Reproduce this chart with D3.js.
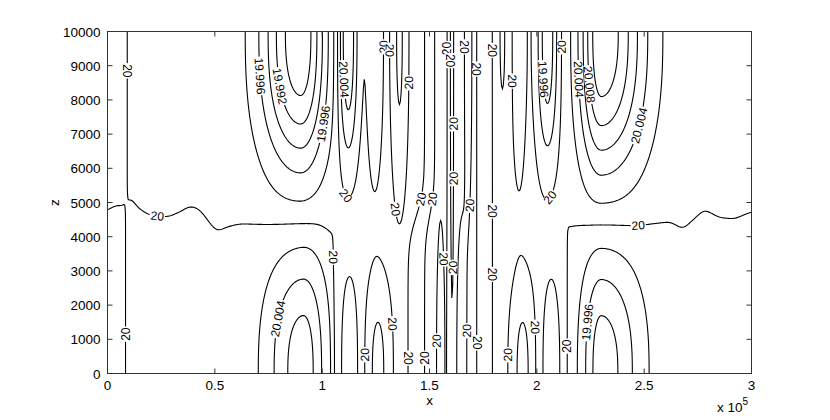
<!DOCTYPE html>
<html lang="en">
<head>
<meta charset="utf-8">
<title>Contour z over x</title>
<style>
  body { margin: 0; background: #fff; }
  svg text { font-family: "Liberation Sans", Arial, Helvetica, sans-serif; fill: #000; }
</style>
</head>
<body>
<div id="chart"></div>
<script src="https://cdn.jsdelivr.net/npm/d3@7"></script>
<script>
// x in units of 1e5, z in metres, anomalies in units of 0.001 around 20
const xTicks = [0, 0.5, 1, 1.5, 2, 2.5, 3];
const zTicks = [0, 1000, 2000, 3000, 4000, 5000, 6000, 7000, 8000, 9000, 10000];
const levelSteps = [-6, -5, -4, -3, -2, -1, 0, 1, 2, 3, 4, 5, 6];

// lobes hanging from the top ("t") or rising from the bottom ("b")
const lobeX    = [0.90, 0.913, 1.12, 1.126, 1.245, 1.36, 1.26, 1.552, 1.605, 1.65, 1.68, 1.84, 1.917, 2.05, 1.934, 2.067, 2.30, 2.30];
const lobeWL   = [0.18, 0.17, 0.044, 0.049, 0.037, 0.035, 0.055, 0.02, 0.007, 0.024, 0.018, 0.026, 0.036, 0.048, 0.053, 0.047, 0.10, 0.09];
const lobeWR   = [0.12, 0.105, 0.044, 0.049, 0.037, 0.035, 0.055, 0.02, 0.007, 0.024, 0.018, 0.026, 0.036, 0.048, 0.053, 0.047, 0.20, 0.18];
const lobeA    = [-11, 6.5, 6.8, -3, 1.9, 3.0, 3.3, 1.5, -1.8, -1.5, -1.5, 1.7, -1.5, -6, -3.3, 3, 11, -6.5];
const lobeSide = ["t", "b", "t", "b", "t", "t", "b", "b", "t", "b", "t", "t", "t", "t", "b", "b", "t", "b"];
const lobeD    = [3920, 3348, 3566, 3250, 4400, 4640, 2645, 4630, 7410, 4630, 5600, 3300, 4800, 3600, 2620, 3100, 3990, 3348];

// background sign pattern: flips near the top / bottom and tilted column boundaries
const topFlips = [0.092];
const botFlips = [0.084, 1.05, 2.142];
const colTop = [1.477, 1.524, 1.582, 1.72, 1.793];
const colBot = [1.40, 1.477, 1.582, 1.72, 1.793];
// height of the horizontal "20" line
const zmX = [-0.1, 0, 0.03, 0.06, 0.085, 0.1, 0.113, 0.15, 0.2, 0.28, 0.33, 0.385, 0.43, 0.47, 0.51, 0.56, 0.62, 0.75, 0.9, 0.98, 1.02, 1.05, 2.142, 2.2, 2.3, 2.45, 2.54, 2.62, 2.68, 2.72, 2.78, 2.85, 2.92, 3.0, 3.1];
const zmZ = [4766, 4766, 4900, 4930, 4850, 5300, 5058, 4800, 4620, 4580, 4700, 4900, 4800, 4450, 4150, 4300, 4395, 4400, 4400, 4350, 4200, 4000, 4300, 4376, 4370, 4357, 4425, 4460, 4230, 4450, 4800, 4560, 4520, 4730, 4730];

// inline contour labels
const labelX = [0.083, 0.718, 0.819, 1.106, 1.005, 1.098, 1.222, 1.311, 1.40, 1.338, 1.478, 1.524, 0.23, 1.579, 1.602, 1.664, 1.718, 1.788, 1.609, 1.609, 1.679, 1.795, 1.571, 1.609, 1.78, 1.307, 1.191, 1.40, 1.48, 1.532, 1.664, 1.718, 1.036, 0.819, 0.083, 1.884, 2.004, 2.144, 2.214, 2.47, 1.885, 2.028, 2.129, 2.167, 2.214, 2.447, 2.055];
const labelZ = [8869, 8713, 8421, 8616, 7301, 5155, 9575, 9450, 8518, 4790, 5068, 5068, 4571, 9503, 9161, 9561, 8918, 9453, 7310, 5702, 4922, 4775, 3363, 3120, 2920, 1460, 530, 450, 450, 974, 1266, 877, 3420, 1550, 1160, 530, 1354, 800, 1500, 4357, 8530, 8616, 9541, 8616, 8421, 7301, 5190];
const labelText = ["20", "19.996", "19.992", "20.004", "19.996",
  "20", "20", "20", "20", "20", "20", "20", "20", "20", "20", "20", "20", "20", "20",
  "20", "20", "20", "20", "20", "20", "20", "20", "20", "20", "20", "20", "20", "20",
  "20.004", "20", "20", "20", "20", "19.996", "20", "20", "19.996", "20", "20.004", "20.008", "20.004", "20"];

const chartWidth = 830, chartHeight = 420;
const plotLeft = 107.5, plotRight = 751.5, plotTop = 31.5, plotBottom = 373.5;

const x = d3.scaleLinear().domain([0, 3]).range([plotLeft, plotRight]);
const z = d3.scaleLinear().domain([0, 10000]).range([plotBottom, plotTop]);
const zmLinear = d3.scaleLinear().domain(zmX).range(zmZ).clamp(true);

// sample grid a little wider than the axes so border rings fall outside the clip
const nx = 771, nz = 211, gx0 = -0.04, gdx = 0.004, gz0 = -250, gdz = 50;

// soften the corners of the read-off line with a small triangular window
const zmGrid = d3.range(nx).map(i => {
  const xv = gx0 + i * gdx;
  let s = 0, ws = 0;
  for (let k = -8; k <= 8; k++) {
    const w = 9 - Math.abs(k);
    s += w * zmLinear(xv + k * gdx);
    ws += w;
  }
  return s / ws;
});

function flip(xv, flips, s0, d) {
  let s = s0;
  for (const b of flips) s *= Math.tanh((xv - b) / d);
  return s;
}

function field(i, zv) {
  const xv = gx0 + i * gdx;
  const h = 0.5 * (1 + Math.tanh((zv - zmGrid[i]) / 300));
  const v = flip(xv, topFlips, 1, 0.004) * h + flip(xv, botFlips, -1, 0.004) * (1 - h);
  const hh = 0.5 * (1 + Math.tanh((zv - 4600) / 800));
  let c = 1;
  for (let k = 0; k < colTop.length; k++) {
    const b = colBot[k] + (colTop[k] - colBot[k]) * hh;
    c *= Math.tanh((xv - b) / 0.006);
  }
  let f = 0.6 * c * v;
  for (let k = 0; k < lobeX.length; k++) {
    const dx = xv - lobeX[k];
    const w = dx < 0 ? lobeWL[k] : lobeWR[k];
    const dz = Math.max(0, lobeSide[k] === "t" ? 10000 - zv : zv);
    f += lobeA[k] * Math.exp(-(dx / w) * (dx / w)) * Math.exp(-Math.pow(dz / lobeD[k], 2.5));
  }
  return f;
}

const values = new Float64Array(nx * nz);
for (let j = 0; j < nz; j++) {
  for (let i = 0; i < nx; i++) {
    values[j * nx + i] = field(i, gz0 + j * gdz);
  }
}

const thresholds = levelSteps.map(k => 2 * k);
const contours = d3.contours().size([nx, nz]).thresholds(thresholds)(values);

const toPx = (a, b) => [x(gx0 + (a - 0.5) * gdx), z(gz0 + (b - 0.5) * gdz)];
const path = d3.geoPath(d3.geoTransform({
  point: function (a, b) { const p = toPx(a, b); this.stream.point(p[0], p[1]); }
}));

const svg = d3.select("#chart").append("svg")
  .attr("width", chartWidth)
  .attr("height", chartHeight);

svg.append("defs").append("clipPath").attr("id", "plot")
  .append("rect")
  .attr("x", plotLeft).attr("y", plotTop)
  .attr("width", plotRight - plotLeft).attr("height", plotBottom - plotTop);

const plot = svg.append("g").attr("clip-path", "url(#plot)");

plot.selectAll("path")
  .data(contours)
  .join("path")
  .attr("d", path)
  .attr("fill", "none")
  .attr("stroke", "#000")
  .attr("stroke-width", 1.1);

// rings in pixel space, per level, for label snapping
const rings = contours.map(c => {
  const list = [];
  c.coordinates.forEach(poly => poly.forEach(ring => list.push(ring.map(p => toPx(p[0], p[1])))));
  return { value: c.value, list };
});

function nearest(px, py, pool) {
  let best = null;
  pool.forEach(r => r.list.forEach(ring => {
    for (let i = 0; i < ring.length; i++) {
      const p = ring[i];
      if (p[0] < plotLeft + 2 || p[0] > plotRight - 2 || p[1] < plotTop + 2 || p[1] > plotBottom - 2) continue;
      const d = Math.hypot(p[0] - px, p[1] - py);
      if (!best || d < best.d) best = { d, ring, i };
    }
  }));
  return best;
}

const labels = plot.append("g");
labelText.forEach((t, k) => {
  const lvl = Math.round((+t - 20) * 1000);
  const px = x(labelX[k]), py = z(labelZ[k]);
  let hit = nearest(px, py, rings.filter(r => Math.abs(r.value - lvl) < 1e-6));
  if (!hit || hit.d > 14) hit = nearest(px, py, rings);
  if (!hit || hit.d > 20) return;
  const ring = hit.ring, n = ring.length;
  const a = ring[(hit.i - 3 + n) % n], b = ring[(hit.i + 3) % n];
  let ang = Math.atan2(b[1] - a[1], b[0] - a[0]) * 180 / Math.PI;
  if (ang > 90) ang -= 180;
  if (ang <= -90) ang += 180;
  const p = ring[hit.i];
  const g = labels.append("g").attr("transform", `translate(${p[0]},${p[1]}) rotate(${ang})`);
  const txt = g.append("text")
    .attr("text-anchor", "middle")
    .attr("dy", "0.35em")
    .style("font-size", "12px")
    .text(t);
  const len = txt.node().getComputedTextLength();
  g.insert("rect", "text")
    .attr("x", -len / 2 - 1).attr("y", -4.5)
    .attr("width", len + 2).attr("height", 9)
    .attr("fill", "#fff");
});

// axes box and inward ticks on all four sides
const axisColor = "#333";
svg.append("rect")
  .attr("x", plotLeft).attr("y", plotTop)
  .attr("width", plotRight - plotLeft).attr("height", plotBottom - plotTop)
  .attr("fill", "none").attr("stroke", axisColor).attr("stroke-width", 1);

const tickLen = 5;
xTicks.slice(1, -1).forEach(t => {
  svg.append("line").attr("x1", x(t)).attr("x2", x(t)).attr("y1", plotBottom).attr("y2", plotBottom - tickLen).attr("stroke", axisColor);
  svg.append("line").attr("x1", x(t)).attr("x2", x(t)).attr("y1", plotTop).attr("y2", plotTop + tickLen).attr("stroke", axisColor);
});
zTicks.slice(1, -1).forEach(t => {
  svg.append("line").attr("x1", plotLeft).attr("x2", plotLeft + tickLen).attr("y1", z(t)).attr("y2", z(t)).attr("stroke", axisColor);
  svg.append("line").attr("x1", plotRight).attr("x2", plotRight - tickLen).attr("y1", z(t)).attr("y2", z(t)).attr("stroke", axisColor);
});

svg.selectAll(".xt").data(xTicks).join("text")
  .attr("class", "xt")
  .attr("x", d => x(d)).attr("y", plotBottom + 16)
  .attr("text-anchor", "middle")
  .style("font-size", "13.5px")
  .text(d => d);

svg.selectAll(".zt").data(zTicks).join("text")
  .attr("class", "zt")
  .attr("x", plotLeft - 7).attr("y", d => z(d) + 5)
  .attr("text-anchor", "end")
  .style("font-size", "13.5px")
  .text(d => d);

svg.append("text")
  .attr("transform", `translate(59,${(plotTop + plotBottom) / 2}) rotate(-90)`)
  .attr("text-anchor", "middle")
  .style("font-size", "13.5px")
  .text("z");

svg.append("text")
  .attr("x", (plotLeft + plotRight) / 2).attr("y", plotBottom + 31)
  .attr("text-anchor", "middle")
  .style("font-size", "13.5px")
  .text("x");

const mult = svg.append("text")
  .attr("x", 717).attr("y", 412)
  .style("font-size", "13.5px");
mult.append("tspan").text("x 10");
mult.append("tspan").attr("dy", -7).style("font-size", "10px").text("5");
</script>
</body>
</html>
